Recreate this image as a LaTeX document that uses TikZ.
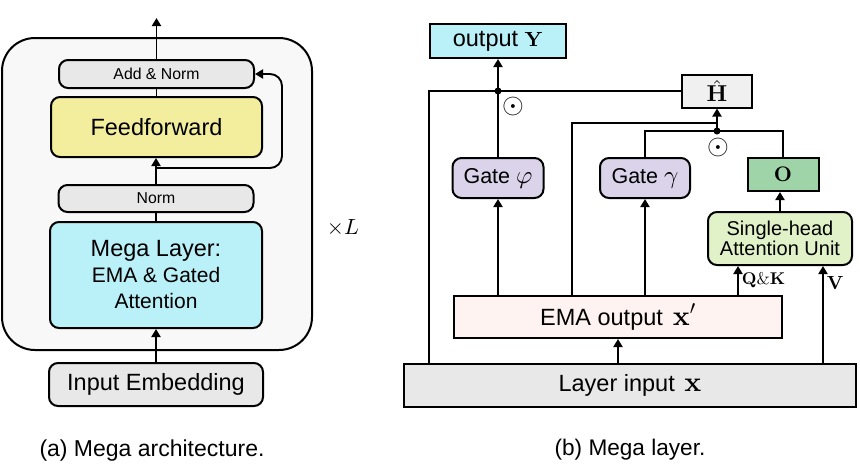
\RequirePackage{fix-cm}
\documentclass[tikz,border=0pt]{standalone}
\usepackage[no-math]{fontspec}
\setmainfont{Liberation Sans}
\DeclareFontShape{OMS}{cmsy}{m}{n}{<->cmsy10}{}
\DeclareFontShape{OML}{cmm}{m}{it}{<->cmmi10}{}
\DeclareFontShape{OT1}{cmr}{bx}{n}{<->cmbx10}{}
\DeclareFontShape{OT1}{cmr}{m}{n}{<->cmr10}{}
\usetikzlibrary{arrows.meta}
\newcommand\fsz[2]{\fontsize{#1}{#2}\selectfont}
\definecolor{bgout}{HTML}{F8F8F8}
\definecolor{grayb}{HTML}{E8E8E8}
\definecolor{ffyel}{HTML}{F3EE9E}
\definecolor{cyanb}{HTML}{BAF0F8}
\definecolor{lavb}{HTML}{DBD3EA}
\definecolor{greenO}{HTML}{9FD4A8}
\definecolor{lgreen}{HTML}{E2F2C8}
\definecolor{pinkb}{HTML}{FFF3F1}
\definecolor{hgray}{HTML}{F0F0F0}
\begin{document}
\begin{tikzpicture}[x=1pt,y=-1pt,
  box/.style={draw, line width=2pt, inner sep=0pt, align=center},
  rbox/.style={box, rounded corners=9pt},
  conn/.style={line width=1.9pt},
  arr/.style={conn, -{Triangle[length=8pt,width=9pt]}},
  jdot/.style={circle, fill=black, inner sep=0pt, minimum size=7pt},
  txt/.style={inner sep=0pt}]
\useasboundingbox (0,0) rectangle (860,469);

% ---------------- (a) left panel ----------------
\node[box, fill=bgout, rounded corners=33pt, minimum width=310pt, minimum height=312pt] (blk) at (157,194) {};
\node[rbox, fill=grayb, minimum width=195pt, minimum height=28pt, font=\fsz{15.8}{18}] (addnorm) at (156.5,74) {Add \& Norm};
\node[rbox, fill=ffyel, minimum width=211pt, minimum height=60pt, font=\fsz{23.5}{28}] (ff) at (156.5,127) {Feedforward};
\node[rbox, fill=grayb, minimum width=195pt, minimum height=27pt, font=\fsz{15.8}{18}] (norm) at (156,198.5) {Norm};
\node[rbox, fill=cyanb, minimum width=212pt, minimum height=106pt, font=\fsz{21}{26}] (mega) at (156,275) {{\fsz{23.5}{28}Mega Layer:}\\EMA \& Gated\\Attention};
\node[rbox, fill=grayb, minimum width=214pt, minimum height=43pt, font=\fsz{23.5}{28}] (inemb) at (156,384.5) {Input Embedding};
\node[txt, font=\fsz{22}{26}] (timesL) at (343,228) {$\times L$};
\node[txt, font=\fsz{23}{27}] (capa) at (152,451) {(a) Mega architecture.};

\coordinate (topend) at (156.5,18);
\coordinate (branch) at (156,168);
\coordinate (rr) at (282,168);
\draw[arr] (addnorm.north) -- (topend);
\draw[conn] (ff.north) -- (addnorm.south);
\draw[arr] (norm.north) -- (ff.south -| norm.north);
\draw[arr, rounded corners=12pt] (branch) -- (rr) -- (rr |- addnorm.east) -- (addnorm.east);
\draw[conn] (mega.north) -- (norm.south);
\draw[arr] (inemb.north) -- (mega.south);

% ---------------- (b) right panel ----------------
\node[box, fill=cyanb, minimum width=136pt, minimum height=34pt, font=\fsz{23.5}{28}] (outY) at (498,41) {output {\fsz{20.5}{24}$\mathbf{Y}$}};
\node[box, fill=hgray, minimum width=70pt, minimum height=33pt, font=\fsz{23}{26}] (Hhat) at (717,91) {$\hat{\mathbf{H}}$};
\node[rbox, fill=lavb, minimum width=91pt, minimum height=40pt, font=\fsz{21.5}{26}] (gatephi) at (498,178) {Gate {\fsz{25}{28}$\varphi$}};
\node[rbox, fill=lavb, minimum width=90pt, minimum height=40pt, font=\fsz{21.5}{26}] (gategamma) at (645,178) {Gate {\fsz{25}{28}$\gamma$}};
\node[box, fill=greenO, minimum width=71pt, minimum height=33pt, font=\fsz{21}{24}] (O) at (783,174.5) {$\mathbf{O}$};
\node[rbox, fill=lgreen, minimum width=144pt, minimum height=53pt, font=\fsz{20}{20.5}] (sha) at (780,238.5) {Single-head\\Attention Unit};
\node[box, fill=pinkb, minimum width=328pt, minimum height=42pt, font=\fsz{23.5}{28}] (ema) at (618,317) {EMA output\hspace{10pt}{\fsz{28}{30}$\mathbf{x}'$}};
\node[box, fill=grayb, minimum width=452pt, minimum height=43pt, font=\fsz{23.5}{28}] (lin) at (630,385.5) {Layer input\hspace{3pt} {\fsz{28}{30}$\mathbf{x}$}};
\node[txt, font=\fsz{22.6}{27}] (capb) at (630,450) {(b) Mega layer.};
\node[txt, font=\fsz{28}{30}] (od1) at (513,106) {$\odot$};
\node[txt, font=\fsz{28}{30}] (od2) at (718,147) {$\odot$};

\coordinate (j1) at (498,91);
\coordinate (c429) at (429,91);
\coordinate (c572) at (572,123);
\coordinate (j2) at (717,131);
\coordinate (cqk) at (738,280);
\coordinate (cv) at (823,280);

\draw[conn] (c429 |- lin.north) -- (c429) -- (Hhat.west);
\draw[arr] (j1) -- (outY.south);
\draw[conn] (gatephi.north) -- (j1);
\draw[arr] (ema.north -| gatephi.north) -- (gatephi.south);
\draw[conn] (ema.north -| c572) -- (c572) -- (c572 -| Hhat.south);
\draw[arr] (j2) -- (Hhat.south);
\draw[conn] (gategamma.north) |- (O.north |- j2) -- (O.north);
\draw[arr] (ema.north -| gategamma.south) -- (gategamma.south);
\draw[arr] (sha.north) -- (sha.north |- O.south);
\draw[arr] (ema.north -| cqk) -- (sha.south -| cqk) node[pos=0.5, right, inner sep=3pt, font=\fsz{17}{20}] (qk) {$\mathbf{Q}\&\mathbf{K}$};
\draw[arr] (lin.north -| cv) -- (sha.south -| cv) node[pos=0.83, right, inner sep=3pt, font=\fsz{19}{21}] (vl) {$\mathbf{V}$};
\draw[arr] (lin.north -| ema.south) -- (ema.south);
\node[jdot] (d1) at (j1) {};
\node[jdot] (d2) at (j2) {};
\end{tikzpicture}
\end{document}
